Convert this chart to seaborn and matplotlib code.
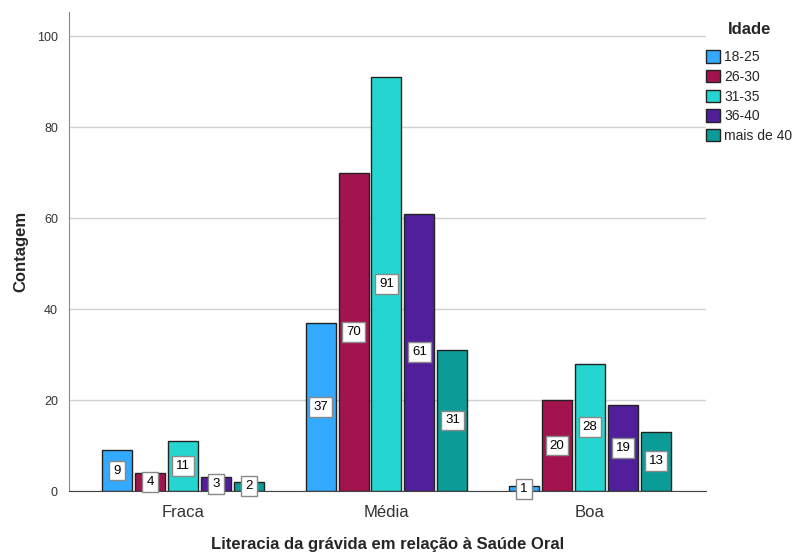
import matplotlib
matplotlib.use("Agg")
import matplotlib.pyplot as plt
import seaborn as sns
import pandas as pd

categories = ["Fraca", "Média", "Boa"]
ages = ["18-25", "26-30", "31-35", "36-40", "mais de 40"]
v_18_25 = [9, 37, 1]
v_26_30 = [4, 70, 20]
v_31_35 = [11, 91, 28]
v_36_40 = [3, 61, 19]
v_40 = [2, 31, 13]
series = [v_18_25, v_26_30, v_31_35, v_36_40, v_40]
colors = ["#33aaff", "#a3144f", "#25d6d0", "#521f9a", "#0c9c97"]

rows = []
for age, vals in zip(ages, series):
    for c, v in zip(categories, vals):
        rows.append({"cat": c, "Idade": age, "n": v})
df = pd.DataFrame(rows)

sns.set_style("white")
plt.rcParams['font.family'] = ['Arial', 'Liberation Sans', 'DejaVu Sans']

fig = plt.figure(figsize=(7.98, 5.56), dpi=100)
ax = fig.add_axes([69/798, 1-491/556, (706-69)/798, (491-12)/556])
sns.barplot(data=df, x="cat", y="n", hue="Idade", order=categories, hue_order=ages,
            palette=colors, saturation=1, width=0.81, gap=0.09, edgecolor="#222222", linewidth=1.0,
            ax=ax, legend=True, errorbar=None)

for cont in ax.containers:
    for bar in cont:
        h = bar.get_height()
        x = bar.get_x() + bar.get_width() / 2
        ax.text(x, h / 2, f"{int(h)}", ha="center", va="center", fontsize=9.5, color="black",
                bbox=dict(boxstyle="square,pad=0.3", facecolor="white", edgecolor="#888888", linewidth=1))

ax.set_ylim(0, 105.3)
ax.set_xlim(-0.56, 2.57)
ax.set_yticks([0, 20, 40, 60, 80, 100])
ax.yaxis.grid(True, color="#d0d0d0", linewidth=1)
ax.set_axisbelow(True)
for s in ["top", "right"]:
    ax.spines[s].set_visible(False)
ax.spines["left"].set_color("#888888")
ax.spines["bottom"].set_color("#444444")
ax.tick_params(axis="y", labelsize=9, colors="#333333", length=0, pad=8)
ax.tick_params(axis="x", labelsize=12, colors="#333333", length=0, pad=10)
ax.set_ylabel("Contagem", fontsize=12, fontweight="bold", labelpad=6)
ax.set_xlabel("Literacia da grávida em relação à Saúde Oral", fontsize=12, fontweight="bold", labelpad=12)

leg = ax.legend(title="Idade", loc="upper left", bbox_to_anchor=(1.0, 0.98), frameon=False,
                fontsize=10, title_fontproperties={"weight": "bold", "size": 12},
                handlelength=1.0, handleheight=1.0, handletextpad=0.3, labelspacing=0.4,
                borderaxespad=0.0, borderpad=0.0)
leg._legend_box.align = "center"
leg._legend_box.sep = 10

fig.savefig("out.png", dpi=100)
